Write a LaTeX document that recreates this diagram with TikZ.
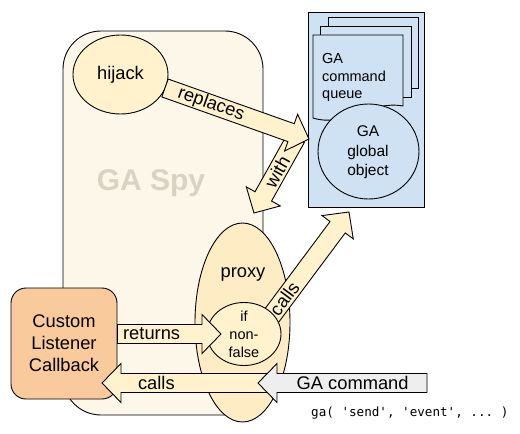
\documentclass[tikz,border=0pt]{standalone}
\usepackage{fontspec}
\setmainfont{Liberation Sans}
\setmonofont{DejaVu Sans Mono}
\usetikzlibrary{shapes.geometric,calc}
\definecolor{spyfill}{RGB}{253,247,233}
\definecolor{spytext}{RGB}{216,212,196}
\definecolor{yel}{RGB}{255,242,204}
\definecolor{proxyfill}{RGB}{254,236,196}
\definecolor{gablue}{RGB}{207,226,243}
\definecolor{orangefill}{RGB}{249,203,156}
\definecolor{cmdgray}{RGB}{238,238,238}
\tikzset{
  outl/.style={draw=black, line width=0.9pt},
  blockarr/.style={outl, fill=yel, line join=miter},
  big/.style={font=\fontsize{18.3}{22}\selectfont, inner sep=0pt},
  small/.style={font=\fontsize{14.5}{17.5}\selectfont, inner sep=0pt},
  oval/.style={outl, ellipse, inner sep=0pt},
}
% block arrow: #2 = start coordinate, #3 = tip coordinate
\newcommand\blockarrow[3][]{%
  \path[blockarr,#1] let \p1=($(#3)-(#2)$), \n1={atan2(\y1,\x1)}, \n2={veclen(\x1,\y1)} in
    ($(#2)+(\n1+90:9.5pt)$)
    -- ($(#2)+(\n1:{\n2-19pt})+(\n1+90:9.5pt)$)
    -- ($(#2)+(\n1:{\n2-19pt})+(\n1+90:19.5pt)$)
    -- (#3)
    -- ($(#2)+(\n1:{\n2-19pt})+(\n1-90:19.5pt)$)
    -- ($(#2)+(\n1:{\n2-19pt})+(\n1-90:9.5pt)$)
    -- ($(#2)+(\n1-90:9.5pt)$) -- cycle;}
\begin{document}
\begin{tikzpicture}[x=1pt,y=-1pt]
\useasboundingbox (0,0) rectangle (520,434);
% GA Spy container
\draw[outl, fill=spyfill, rounded corners=38pt] (63,31) rectangle (263,415);
\node[font=\bfseries\fontsize{30}{36}\selectfont, text=spytext, inner sep=0pt] (spylabel) at (151,183) {GA Spy};
% hijack
\node[oval, fill=yel, minimum width=95pt, minimum height=79pt] (hijack) at (120.5,74.5) {};
\node[big] (hijacktext) at (hijack) {hijack};
% GA global area
\draw[outl, fill=gablue] (308,12) rectangle (424,207);
\draw[outl, fill=gablue] (328,17) rectangle (418,88);
\draw[outl, fill=gablue] (320,26) rectangle (411,97);
\draw[outl, fill=gablue] (313,35) -- (403,35) -- (403,106) .. controls (370,100) and (345,128) .. (313,118) -- cycle;
\node[small, align=left, anchor=west] (queue) at (322,77.5) {GA\\command\\queue};
\node[oval, fill=gablue, minimum width=101pt, minimum height=95pt] (global) at (368.5,151.5) {};
\node[font=\fontsize{15.5}{19.5}\selectfont, inner sep=0pt, align=center] (globaltext) at (368,152.5) {GA\\global\\object};
% proxy
\node[oval, fill=proxyfill, minimum width=95pt, minimum height=199pt] (proxy) at (242.5,322.5) {};
\node[big] (proxytext) at (243,274) {proxy};
% arrow end points
\coordinate (repS) at (165,88);
\coordinate (repT) at (309,139);
\coordinate (withS) at (296,138);
\coordinate (withT) at (254,213);
\coordinate (callS) at (258,334);
\coordinate (callT) at (349,212);
% with / replaces
\blockarrow{withS}{withT}
\node[big, rotate=60.7] (withlbl) at ($(withS)!0.45!(withT)$) {with};
\blockarrow{repS}{repT}
\node[big, rotate=-19.5] (replbl) at ($(repS)!0.32!(repT)$) {replaces};
% calls (to global)
\blockarrow{callS}{callT}
\node[big, rotate=53.3] (calllbl) at ($(callS)!0.29!(callT)$) {calls};
% if non-false
\node[oval, fill=yel, minimum width=74pt, minimum height=63pt] (ifnf) at (244,334) {};
\node[small, align=center, font=\fontsize{14.5}{18}\selectfont] (ifnftext) at (244,334.5) {if\\non-\\false};
% custom listener callback
\node[outl, fill=orangefill, rounded corners=15pt, minimum width=106pt, minimum height=111pt, inner sep=0pt] (custom) at (64,343.5) {};
\node[big, align=center] (customtext) at (custom) {Custom\\Listener\\Callback};
% returns
\coordinate (retS) at (custom.east |- ifnf.center);
\coordinate (retT) at (221,334);
\blockarrow{retS}{retT}
\node[big] (retlbl) at ($(retS)!0.33!(retT)$) {returns};
% calls (to callback)
\coordinate (cbS) at (272,383);
\coordinate (cbT) at (102,383);
\blockarrow{cbS}{cbT}
\node[big] (cblbl) at ($(cbS)!0.68!(cbT)$) {calls};
% GA command
\coordinate (cmdS) at (427,383);
\coordinate (cmdT) at (258,383);
\blockarrow[fill=cmdgray]{cmdS}{cmdT}
\node[big] (cmdlbl) at ($(cmdS)!0.44!(cmdT)$) {GA command};
% code sample
\node[font=\ttfamily\fontsize{12.6}{15}\selectfont, inner sep=0pt, anchor=west] (code) at (311,413) {ga( 'send', 'event', ... )};
\end{tikzpicture}
\end{document}
